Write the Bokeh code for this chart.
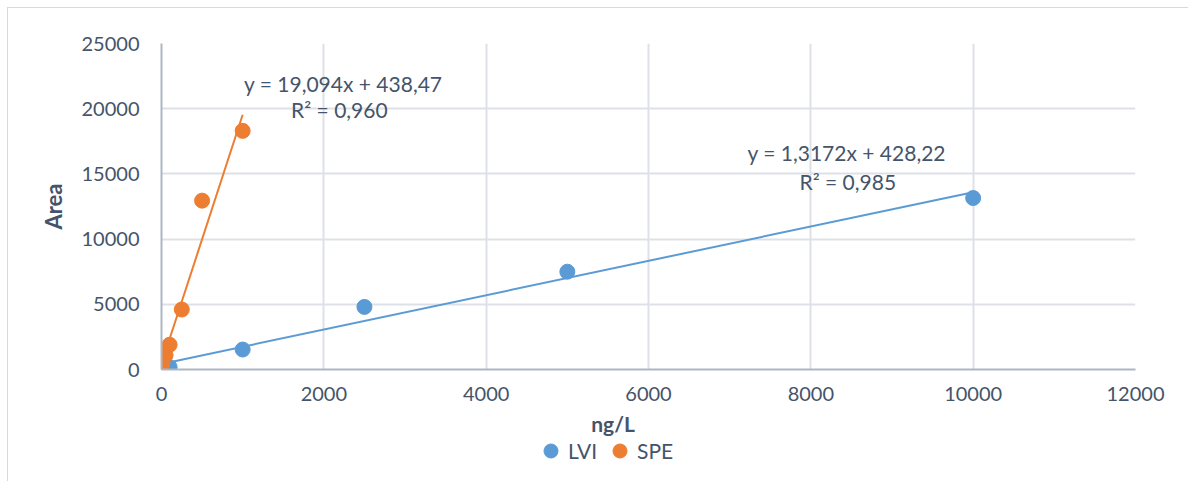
from bokeh.plotting import figure
from bokeh.models import Range1d, Label, Legend, LegendItem, FixedTicker
from bokeh.layouts import column
from bokeh.embed import file_html
from bokeh.resources import INLINE

# Data
lvi_x = [10, 100, 1000, 2500, 5000, 10000]
lvi_y = [40, 180, 1530, 4800, 7500, 13150]
spe_x = [10, 50, 100, 250, 500, 1000]
spe_y = [420, 1100, 1900, 4600, 12950, 18300]

# Trendline coefficients (from the chart's labels)
lvi_slope, lvi_intercept = 1.3172, 428.22
spe_slope, spe_intercept = 19.094, 438.47
lvi_eq = ["y = 1,3172x + 428,22", "R² = 0,985"]
spe_eq = ["y = 19,094x + 438,47", "R² = 0,960"]

x_ticks = [0, 2000, 4000, 6000, 8000, 10000, 12000]
y_ticks = [0, 5000, 10000, 15000, 20000, 25000]

BLUE = "#5B9BD5"
ORANGE = "#ED7D31"
TEXT = "#44546A"
FONT = "Lato"

xr = Range1d(0, 12000)
p = figure(width=1180, height=402, output_backend="svg", toolbar_location=None,
           x_range=xr, y_range=Range1d(0, 25000),
           min_border_left=153, min_border_top=35, min_border_right=53, min_border_bottom=41)
p.outline_line_color = None

p.xaxis.ticker = FixedTicker(ticks=x_ticks)
p.yaxis.ticker = FixedTicker(ticks=y_ticks)
for ax in (p.xaxis, p.yaxis):
    ax.major_tick_line_color = None
    ax.minor_tick_line_color = None
    ax.major_tick_out = 0
    ax.major_label_text_font = FONT
    ax.major_label_text_font_size = "20px"
    ax.major_label_text_color = TEXT
    ax.axis_line_color = "#ADB6C4"
    ax.axis_line_width = 2
p.yaxis.major_label_standoff = 22
p.xaxis.major_label_standoff = 17
p.yaxis.axis_label = "Area"
p.yaxis.axis_label_text_font = FONT
p.yaxis.axis_label_text_font_size = "22px"
p.yaxis.axis_label_text_font_style = "bold"
p.yaxis.axis_label_text_color = TEXT
p.yaxis.axis_label_standoff = 12

p.xgrid.grid_line_color = "#DDE1E7"
p.ygrid.grid_line_color = "#DDE1E7"
p.xgrid.grid_line_width = 2
p.ygrid.grid_line_width = 2

# trendlines
lx = [0, max(lvi_x)]
p.line(lx, [lvi_slope * v + lvi_intercept for v in lx], line_color=BLUE, line_width=2)
sx = [0, max(spe_x)]
p.line(sx, [spe_slope * v + spe_intercept for v in sx], line_color=ORANGE, line_width=2)

p.scatter(lvi_x, lvi_y, size=15, fill_color=BLUE, line_color=BLUE)
p.scatter(spe_x, spe_y, size=15, fill_color=ORANGE, line_color=ORANGE)

def lab(x, y, t):
    p.add_layout(Label(x=x, y=y, text=t, text_font=FONT, text_font_size="21px",
                       text_color=TEXT, text_align="center", text_baseline="middle"))

lab(2240, 21933, spe_eq[0])
lab(2191, 19939, spe_eq[1])
lab(8443, 16641, lvi_eq[0])
lab(8455, 14417, lvi_eq[1])

# lower strip: x-axis title and legend
q = figure(width=1180, height=71, output_backend="svg", toolbar_location=None,
           x_range=xr, y_range=Range1d(0, 71),
           min_border_left=153, min_border_right=53, min_border_top=0, min_border_bottom=0,
           x_axis_location=None, y_axis_location=None)
q.outline_line_color = None
q.grid.visible = False

q.add_layout(Label(x=5563, y=58, text="ng/L", text_font=FONT, text_font_size="21px",
                   text_font_style="bold", text_color=TEXT, text_align="center",
                   text_baseline="middle"))

# legend proxies (kept outside the strip's visible range)
g_lvi = q.scatter(x=[lvi_x[0]], y=[-1e6], size=15, fill_color=BLUE, line_color=BLUE)
g_spe = q.scatter(x=[spe_x[0]], y=[-1e6], size=15, fill_color=ORANGE, line_color=ORANGE)
legend = Legend(items=[LegendItem(label="LVI", renderers=[g_lvi]),
                       LegendItem(label="SPE", renderers=[g_spe])],
                orientation="horizontal", location=(372, 13),
                padding=0, margin=0, spacing=5, label_standoff=0,
                glyph_width=35, glyph_height=35,
                label_text_font=FONT, label_text_font_size="21px", label_text_color=TEXT,
                border_line_color=None, background_fill_alpha=0)
q.add_layout(legend, "center")

layout = column(p, q, spacing=0)
layout.styles = {"margin-left": "7px", "margin-top": "7px",
                 "border-left": "1px solid #D9D9D9", "border-top": "1px solid #D9D9D9"}

open("out.html", "w").write(file_html(layout, INLINE))
